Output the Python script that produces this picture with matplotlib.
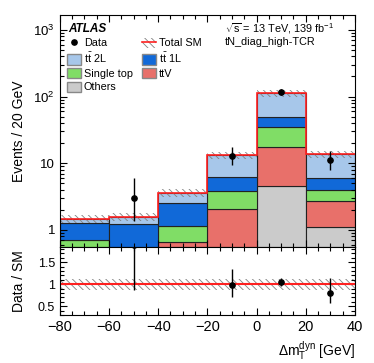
import numpy as np
import matplotlib
matplotlib.use('Agg')
import matplotlib.pyplot as plt
from matplotlib.patches import Patch
from matplotlib.lines import Line2D
from matplotlib.ticker import FixedLocator, MultipleLocator, FixedFormatter, LogLocator, NullFormatter

plt.rcParams['font.family'] = ['Liberation Sans', 'DejaVu Sans']
plt.rcParams['mathtext.fontset'] = 'custom'
plt.rcParams['mathtext.rm'] = 'Liberation Sans'
plt.rcParams['mathtext.it'] = 'Liberation Sans:italic'
plt.rcParams['mathtext.bf'] = 'Liberation Sans:bold'
plt.rcParams['hatch.linewidth'] = 0.6

# bin edges of Delta m_T^dyn [GeV]
edges = np.array([-80, -60, -40, -20, 0, 20, 40])
# background yields per bin (stack order: bottom to top)
others = np.array([0.05, 0.05, 0.10, 0.30, 4.6, 1.10])
ttv = np.array([0.10, 0.10, 0.55, 1.74, 12.8, 1.65])
single_top = np.array([0.56, 0.30, 0.51, 1.80, 17.3, 1.25])
tt1l = np.array([0.55, 0.77, 1.41, 2.46, 14.3, 1.96])
tt2l = np.array([0.21, 0.36, 1.05, 6.90, 63.0, 7.64])
rel_unc = np.array([0.13, 0.13, 0.13, 0.13, 0.13, 0.13])
# data
data = np.array([0, 3, 0, 13, 118, 11])
data_lo = np.array([0, 1.63, 0, 3.5, 10.9, 3.1])
data_hi = np.array([0, 2.92, 0, 4.8, 10.9, 4.5])

comps = [('Others', others, '#cbcbcb'),
         ('ttV', ttv, '#e8706a'),
         ('Single top', single_top, '#80dd66'),
         (r't$\bar{\mathrm{t}}$ 1L', tt1l, '#1169d8'),
         (r't$\bar{\mathrm{t}}$ 2L', tt2l, '#a7c7ea')]

left = edges[:-1]
width = np.diff(edges)
centers = left + width / 2
total = others + ttv + single_top + tt1l + tt2l

fig = plt.figure(figsize=(3.74, 3.63), dpi=100)
ax = fig.add_axes([0.160, 0.320, 0.789, 0.639])
rax = fig.add_axes([0.160, 0.132, 0.789, 0.188], sharex=ax)

bottom = np.zeros(len(left))
handles = {}
for name, vals, col in comps:
    ax.bar(left, vals, width=width, bottom=bottom, align='edge', color=col,
           edgecolor='#222222', linewidth=0.8)
    handles[name] = Patch(facecolor=col, edgecolor='#888888', linewidth=1.0)
    bottom = bottom + vals

hatch = '\\\\\\\\\\'
ax.bar(left, 2 * rel_unc * total, width=width, bottom=total * (1 - rel_unc), align='edge',
       fill=False, hatch=hatch, edgecolor='#808080', linewidth=0)
ax.stairs(total, edges, color='#ff2020', linewidth=1.2, baseline=None)

m = data > 0
ax.errorbar(centers[m], data[m], yerr=[data_lo[m], data_hi[m]], fmt='o', color='black',
            markersize=3.8, elinewidth=1.0, capsize=0)

ax.set_yscale('log')
ax.set_ylim(0.556, 1680)
ax.set_xlim(-80, 40)
ax.yaxis.set_major_locator(FixedLocator([1, 10, 100, 1000]))
ax.yaxis.set_major_formatter(FixedFormatter(['1', '10', r'$10^2$', r'$10^3$']))
ax.yaxis.set_minor_locator(LogLocator(base=10, subs=np.arange(2, 10)))
ax.yaxis.set_minor_formatter(NullFormatter())
ax.set_ylabel('Events / 20 GeV', fontsize=10)
plt.setp(ax.get_xticklabels(), visible=False)

# ratio panel
rax.bar(left, 2 * rel_unc, width=width, bottom=1 - rel_unc, align='edge',
        fill=False, hatch=hatch, edgecolor='#808080', linewidth=0)
rax.axhline(1, color='#ff2020', linewidth=1.5)
ratio = data / total
rax.errorbar(centers[m], ratio[m], yerr=[data_lo[m] / total[m], data_hi[m] / total[m]],
             fmt='o', color='black', markersize=3.8, elinewidth=1.0, capsize=0)
rax.set_ylim(0.3, 1.85)
rax.yaxis.set_major_locator(FixedLocator([0.5, 1, 1.5]))
rax.yaxis.set_major_formatter(FixedFormatter(['0.5', '1', '1.5']))
rax.yaxis.set_minor_locator(MultipleLocator(0.1))
rax.xaxis.set_major_locator(MultipleLocator(20))
rax.xaxis.set_minor_locator(MultipleLocator(5))
rax.set_ylabel('Data / SM', fontsize=10)
rax.set_xlabel(r'$\Delta\mathrm{m}_{\mathrm{T}}^{\mathrm{dyn}}$ [GeV]', fontsize=10, ha='right', x=1.0)

for a in (ax, rax):
    a.tick_params(which='both', direction='in', top=True, right=True)
    a.tick_params(which='major', length=5, width=0.8)
    a.tick_params(which='minor', length=2.8, width=0.8)
ax.tick_params(axis='y', labelsize=9.5)
rax.tick_params(axis='y', labelsize=9)
rax.tick_params(axis='x', labelsize=10.5)
ax.yaxis.set_label_coords(-0.115, 0.5)
rax.yaxis.set_label_coords(-0.115, 0.5)

# texts
ax.text(0.03, 0.94, 'ATLAS', transform=ax.transAxes, fontsize=8.5,
        fontweight='bold', fontstyle='italic', va='center')
ax.text(0.56, 0.94, r'$\sqrt{\mathrm{s}}$ = 13 TeV, 139 fb$^{-1}$', transform=ax.transAxes,
        fontsize=7.8, va='center')
ax.text(0.56, 0.885, 'tN_diag_high-TCR', transform=ax.transAxes, fontsize=7.8, va='center')

data_h = Line2D([], [], marker='o', color='black', linestyle='none', markersize=3.8)
tot_h = (Patch(facecolor='none', edgecolor='#808080', hatch=hatch, linewidth=0),
         Line2D([], [], color='#ff2020', linewidth=1.2))
leg_h = [data_h, handles[r't$\bar{\mathrm{t}}$ 2L'], handles['Single top'], handles['Others'],
         tot_h, handles[r't$\bar{\mathrm{t}}$ 1L'], handles['ttV']]
leg_l = ['Data', r't$\bar{\mathrm{t}}$ 2L', 'Single top', 'Others',
         'Total SM', r't$\bar{\mathrm{t}}$ 1L', 'ttV']
ax.legend(leg_h, leg_l, ncol=2, loc='upper left', bbox_to_anchor=(0.0, 0.935),
          frameon=False, fontsize=7.8, handlelength=1.25, handleheight=1.1,
          handletextpad=0.25, columnspacing=0.9, labelspacing=0.25, borderaxespad=0.3)

fig.savefig('out.png', dpi=100)
